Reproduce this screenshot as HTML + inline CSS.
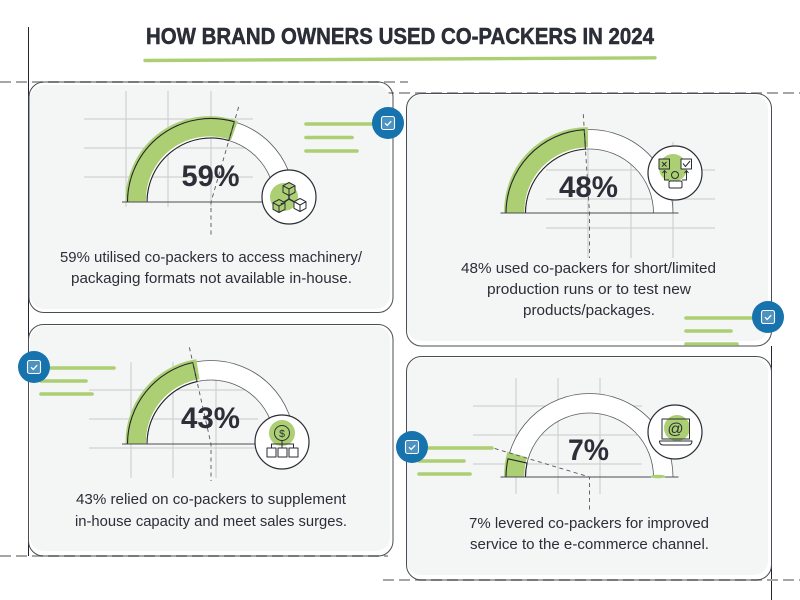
<!DOCTYPE html>
<html lang="en">
<head>
<meta charset="utf-8">
<title>How brand owners used co-packers in 2024</title>
<style>
html,body{margin:0;padding:0;background:#fff;width:800px;height:600px;overflow:hidden}
svg{display:block}
text{font-family:"Liberation Sans",sans-serif;fill:#2c2e38}
.body-line{font-size:14.5px;text-anchor:start}
.card-border{fill:none;stroke:#4a4d55;stroke-width:1}
.card-fill{fill:#f4f5f5}
.grid{fill:none;stroke:#c9caca;stroke-width:1}
.guide{fill:none;stroke:#a6a6a6;stroke-width:1.9;stroke-dasharray:11 5}
.frame{fill:none;stroke:#22242c;stroke-width:1}
.bar{stroke:#abcf72;stroke-width:3.6;stroke-linecap:round;fill:none}
.ring{fill:#fff;stroke:#2b2d35;stroke-width:1.2}
.blob{fill:#abcf72}
.ico{fill:none;stroke:#2b2d35;stroke-width:1;stroke-linejoin:round}
.ico-white{fill:#fff;stroke:#2b2d35;stroke-width:1;stroke-linejoin:round}
.ico-green{fill:#abcf72;stroke:#2b2d35;stroke-width:1;stroke-linejoin:round}
.badge-bg{fill:#1673ad}
.badge-box{fill:#4d93c0;stroke:#fff;stroke-width:1.1}
.badge-check{fill:none;stroke:#fff;stroke-width:1.3}
</style>
</head>
<body>
<svg xmlns="http://www.w3.org/2000/svg" width="800" height="600" viewBox="0 0 800 600">
<defs>
  <clipPath id="above-baseline"><rect x="-110" y="-110" width="220" height="110"/></clipPath>
  <g id="cube-shape"><path d="M0,-6.5 L6,-3.3 V3.3 L0,6.5 L-6,3.3 V-3.3Z M-6,-3.3 L0,0 L6,-3.3 M0,0 V6.5"/></g>
  <g id="badge-icon">
    <circle class="badge-bg" r="16"/>
    <rect class="badge-box" x="-6.5" y="-6.5" width="13" height="13" rx="2"/>
    <path class="badge-check" d="M-3,0.2 L-0.8,2.4 L3.2,-1.8"/>
  </g>
</defs>

<path class="frame" d="M28.500,27 V556"/>
<path class="frame" d="M771.500,346 V600"/>
<path class="guide" d="M0,82 H408"/>
<path class="guide" d="M383,93 H800"/>
<path class="guide" d="M0,556 H388"/>
<path class="guide" d="M383,580 H800"/>

<text x="146" y="44" font-size="23" font-weight="700" textLength="508" lengthAdjust="spacingAndGlyphs" style="stroke:#25272f;stroke-width:0.5">HOW BRAND OWNERS USED CO-PACKERS IN 2024</text>
<path d="M145,60.500 L655,57.800" stroke="#abcf72" stroke-width="3.4" stroke-linecap="round" fill="none"/>

<!-- card backgrounds -->
<rect class="card-fill" x="30" y="85" width="360" height="224" rx="14"/>
<rect class="card-border" x="29" y="82" width="364" height="230.500" rx="15"/>
<rect class="card-fill" x="407" y="95" width="361" height="246" rx="14"/>
<rect class="card-border" x="406.500" y="93.500" width="365" height="252.500" rx="15"/>
<rect class="card-fill" x="30" y="326" width="360" height="225" rx="14"/>
<rect class="card-border" x="28.500" y="324.500" width="364.500" height="231.500" rx="15"/>
<rect class="card-fill" x="407" y="358" width="361" height="217" rx="14"/>
<rect class="card-border" x="406.500" y="356.500" width="365" height="223.500" rx="15"/>

<!-- grids -->
<path class="grid" d="M126,91V207M168,91V207M211,91V207M84,119H253M84,148H253M84,177H253"/>
<path class="grid" d="M588,142V258M631,142V258M673,142V258M546,170H715M546,199H715M546,228H715"/>
<path class="grid" d="M131,362V478M173,362V478M216,362V478M89,390H258M89,419H258M89,448H258"/>
<path class="grid" d="M516,378V494M558,378V494M600,378V494M473,406H642M473,435H642M473,464H642"/>

<!-- gauges are drawn by the script into these groups -->
<g id="gauge-0" class="gauge" transform="translate(211 202)" data-label-x="-29.500" data-label-y="-16" data-label-w="58" data-stub="36" data-needle-offset="0"></g>
<g id="gauge-1" class="gauge" transform="translate(589.500 213)" data-label-x="-30.500" data-label-y="-16" data-label-w="59" data-stub="45" data-needle-offset="0"></g>
<g id="gauge-2" class="gauge" transform="translate(211 444)" data-label-x="-30" data-label-y="-16" data-label-w="59" data-stub="37" data-needle-offset="0"></g>
<g id="gauge-3" class="gauge" transform="translate(589.500 477)" data-label-x="-21.500" data-label-y="-17" data-label-w="41" data-stub="36" data-needle-offset="2.300"></g>
<ellipse cx="658" cy="476.500" rx="7.500" ry="1.800" fill="#abcf72"/>

<!-- icon: cubes -->
<g>
  <circle class="ring" cx="289" cy="197" r="27"/>
  <circle class="blob" cx="284" cy="197" r="14"/>
  <path class="ico" d="M289,195 V199 L281,204 M289,199 L298,204" style="stroke-width:1.4"/>
  <use href="#cube-shape" x="289" y="189" class="ico-green"/>
  <use href="#cube-shape" x="279" y="206" class="ico-green"/>
  <use href="#cube-shape" x="300" y="205" class="ico-white"/>
</g>

<!-- icon: production test -->
<g>
  <circle class="ring" cx="675" cy="173" r="27"/>
  <circle class="blob" cx="673" cy="168" r="14"/>
  <rect class="ico-green" x="659" y="159" width="10.500" height="10"/>
  <path class="ico" d="M662,162 L666.500,166.500 M666.500,162 L662,166.500"/>
  <rect class="ico-white" x="681" y="159" width="10.500" height="10"/>
  <path class="ico" d="M683,163.500 L685.500,166.500 L690,161"/>
  <circle class="ico" cx="675" cy="175" r="3.500"/>
  <rect class="ico-white" x="669" y="181" width="13" height="7" rx="1.500"/>
  <path class="ico" d="M669,180 H664.500 V171 M662.500,173 L664.500,170.500 L666.500,173 M682,180 H686.500 V171 M684.500,173 L686.500,170.500 L688.500,173"/>
</g>

<!-- icon: capacity -->
<g>
  <circle class="ring" cx="282" cy="442" r="27"/>
  <circle class="blob" cx="282" cy="433" r="13"/>
  <circle class="ico" cx="282" cy="433" r="7.500"/>
  <text x="282" y="436.800" font-size="10.500" text-anchor="middle">$</text>
  <path class="ico" d="M282,440.500 V448 M271.500,448 V444 H293.500 V448"/>
  <rect class="ico-white" x="267" y="448" width="9" height="9"/>
  <rect class="ico-white" x="278" y="448" width="9" height="9"/>
  <rect class="ico-white" x="289" y="448" width="9" height="9"/>
</g>

<!-- icon: laptop -->
<g>
  <circle class="ring" cx="675" cy="432" r="27"/>
  <circle class="blob" cx="677" cy="428" r="13"/>
  <rect class="ico" x="662" y="419" width="27.500" height="20"/>
  <path class="ico-white" d="M659.500,441 H692 Q692,445 688,445 H663.500 Q659.500,445 659.500,441Z"/>
  <text x="675.500" y="434" font-size="16" text-anchor="middle">@</text>
</g>

<!-- copy -->
<g>
  <text class="body-line" x="60" y="262" textLength="302" lengthAdjust="spacingAndGlyphs">59% utilised co-packers to access machinery/</text>
  <text class="body-line" x="71" y="283" textLength="281" lengthAdjust="spacingAndGlyphs">packaging formats not available in-house.</text>
</g>
<g>
  <text class="body-line" x="461" y="273" textLength="255" lengthAdjust="spacingAndGlyphs">48% used co-packers for short/limited</text>
  <text class="body-line" x="487" y="294" textLength="204" lengthAdjust="spacingAndGlyphs">production runs or to test new</text>
  <text class="body-line" x="523" y="315" textLength="132" lengthAdjust="spacingAndGlyphs">products/packages.</text>
</g>
<g>
  <text class="body-line" x="76" y="504" textLength="270" lengthAdjust="spacingAndGlyphs">43% relied on co-packers to supplement</text>
  <text class="body-line" x="75" y="526" textLength="272" lengthAdjust="spacingAndGlyphs">in-house capacity and meet sales surges.</text>
</g>
<g>
  <text class="body-line" x="469" y="528" textLength="240" lengthAdjust="spacingAndGlyphs">7% levered co-packers for improved</text>
  <text class="body-line" x="470" y="549" textLength="239" lengthAdjust="spacingAndGlyphs">service to the e-commerce channel.</text>
</g>

<!-- decorative bars and badges -->
<g>
  <path class="bar" d="M306,124H378M306,137.500H352M306,151H357"/>
  <use href="#badge-icon" x="388" y="123"/>
</g>
<g>
  <path class="bar" d="M686,318H758M686,331H731M686,344H737"/>
  <use href="#badge-icon" x="768" y="317"/>
</g>
<g>
  <path class="bar" d="M40,368H114M41,381H86M41,394H92"/>
  <use href="#badge-icon" x="34" y="367"/>
</g>
<g>
  <path class="bar" d="M420,448H492M419,461H464M419,474H470"/>
  <use href="#badge-icon" x="412" y="447"/>
</g>
</svg>

<script>
var categories = ['machinery-access', 'short-runs', 'capacity-support', 'ecommerce-service'];
var shareValues = [59, 48, 43, 7];
var valueLabels = ['59%', '48%', '43%', '7%'];

var SVG_NS = 'http://www.w3.org/2000/svg';
var OUTER_RADIUS = 83.5;
var INNER_RADIUS = 64;
var NEEDLE_LENGTH = 99;

// Gauge axis: 0 maps to the left end of the half ring, 100 to the right end.
function valueToAngle(v) {
  return Math.PI - (v / 100) * Math.PI;
}
function polar(v, radius, dx, dy) {
  var a = valueToAngle(v);
  return (dx + radius * Math.cos(a)).toFixed(2) + ',' + (dy - radius * Math.sin(a)).toFixed(2);
}
function arcTo(v, radius, sweep, dx, dy) {
  return 'A' + radius + ',' + radius + ' 0 0 ' + sweep + ' ' + polar(v, radius, dx, dy);
}
function bandPath(v0, v1, dx, dy) {
  return 'M' + polar(v0, OUTER_RADIUS, dx, dy) + arcTo(v1, OUTER_RADIUS, 1, dx, dy) +
    'L' + polar(v1, INNER_RADIUS, dx, dy) + arcTo(v0, INNER_RADIUS, 0, dx, dy) + 'Z';
}
function openBandPath(v0, v1) {
  return 'M' + polar(v0, OUTER_RADIUS, 0, 0) + arcTo(v1, OUTER_RADIUS, 1, 0, 0) +
    'L' + polar(v1, INNER_RADIUS, 0, 0) + arcTo(v0, INNER_RADIUS, 0, 0, 0);
}
function twoArcs(v0, v1) {
  return 'M' + polar(v0, OUTER_RADIUS, 0, 0) + arcTo(v1, OUTER_RADIUS, 1, 0, 0) +
    'M' + polar(v0, INNER_RADIUS, 0, 0) + arcTo(v1, INNER_RADIUS, 1, 0, 0);
}
function makePath(parent, d, fill, stroke, width) {
  var p = document.createElementNS(SVG_NS, 'path');
  p.setAttribute('d', d);
  p.setAttribute('fill', fill);
  p.setAttribute('stroke', stroke);
  p.setAttribute('stroke-width', width);
  parent.appendChild(p);
  return p;
}

shareValues.forEach(function (value, i) {
  var g = document.getElementById('gauge-' + i);
  var stub = parseFloat(g.getAttribute('data-stub'));
  var offset = parseFloat(g.getAttribute('data-needle-offset'));

  var track = makePath(g, bandPath(0, 100, 0, 0), '#ffffff', 'none', 0);
  
  

  var trackEdge = makePath(g, twoArcs(0, 100), 'none', '#5a5c63', 0.8);
  
  

  var fill = makePath(g, bandPath(-1.5, value + 1.8, -1.5, -2), '#abcf72', '#abcf72', 0.8);
  fill.setAttribute('clip-path', 'url(#above-baseline)');
  
  

  var fillEdge = makePath(g, openBandPath(0, value), 'none', '#23252d', 1.1);
  
  

  var needle = makePath(g, 'M' + polar(value + offset, NEEDLE_LENGTH, 0, 0) + 'L0,0V' + stub, 'none', '#55575e', 0.9);
  needle.setAttribute('stroke-dasharray', '4 3.5');
  
  

  var base = makePath(g, 'M-89,0H89', 'none', '#4a4d55', 1.1);
  
  

  var label = document.createElementNS(SVG_NS, 'text');
  label.textContent = valueLabels[i];
  label.setAttribute('x', g.getAttribute('data-label-x'));
  label.setAttribute('y', g.getAttribute('data-label-y'));
  label.setAttribute('font-size', '30');
  label.setAttribute('font-weight', '700');
  label.setAttribute('textLength', g.getAttribute('data-label-w'));
  label.setAttribute('lengthAdjust', 'spacingAndGlyphs');
  
  
  g.appendChild(label);
});
</script>
</body>
</html>
